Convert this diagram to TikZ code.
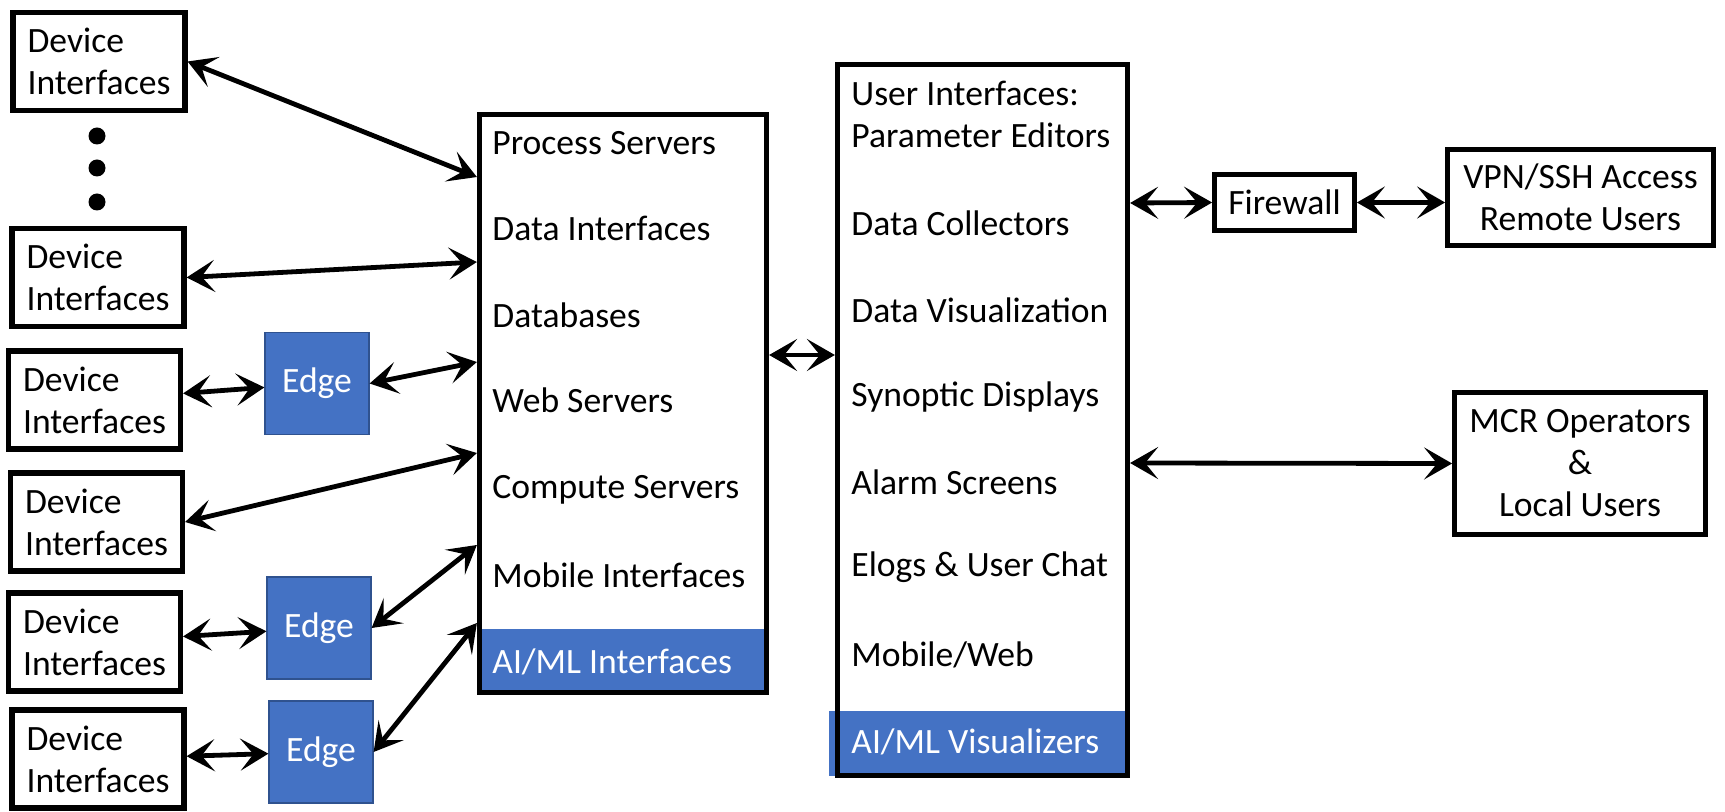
\documentclass[tikz,border=0pt]{standalone}
\usepackage{fontspec}
\setmainfont{Carlito}
\usetikzlibrary{arrows.meta}
\definecolor{ablue}{HTML}{4472C4}
\definecolor{eblue}{HTML}{2F528F}
\tikzset{
  every node/.style={font=\fontsize{17.8}{21}\selectfont},
  dev/.style={draw, line width=2.6pt, minimum width=86pt, minimum height=49pt, align=left, inner sep=0pt},
  edgebox/.style={fill=ablue, draw=eblue, line width=0.6pt, minimum width=52pt, minimum height=51pt, text=white},
  big/.style={draw, line width=2.6pt, inner sep=0pt},
  plain/.style={draw, line width=2.4pt, inner sep=0pt, align=center},
  lbl/.style={anchor=west, inner sep=0pt},
  wlbl/.style={anchor=west, inner sep=0pt, text=white},
  arr/.style={line width=2.4pt, {Stealth[length=14pt,width=16pt,inset=6.5pt]}-{Stealth[length=14pt,width=16pt,inset=6.5pt]}},
  dot/.style={circle, fill, inner sep=0pt, minimum size=8.5pt},
}
\begin{document}
\begin{tikzpicture}[x=0.5pt,y=-0.5pt]
\useasboundingbox (0,0) rectangle (1725,812);
% device boxes
\node[dev] (d1) at (99,61.5) {Device\\Interfaces};
\node[dev] (d2) at (98,277.5) {Device\\Interfaces};
\node[dev] (d3) at (94.5,400) {Device\\Interfaces};
\node[dev] (d4) at (96.5,522) {Device\\Interfaces};
\node[dev] (d5) at (94.5,642) {Device\\Interfaces};
\node[dev] (d6) at (98,759) {Device\\Interfaces};
% dots
\node[dot] (p1) at (97,136) {};
\node[dot] (p2) at (97,168) {};
\node[dot] (p3) at (97,202) {};
% edges
\node[edgebox] (e1) at (317,383.5) {Edge};
\node[edgebox] (e2) at (319,628) {Edge};
\node[edgebox] (e3) at (321,752) {Edge};
% box A
\fill[ablue] (480,629) rectangle (766,692);
\node[big, minimum width=143.5pt, minimum height=289pt] (A) at (623,403.5) {};
\node[lbl] (a1) at (492,143) {Process Servers};
\node[lbl] (a2) at (492,228) {Data Interfaces};
\node[lbl] (a3) at (492,315) {Databases};
\node[lbl] (a4) at (492,400) {Web Servers};
\node[lbl] (a5) at (492,490) {Compute Servers};
\node[lbl] (a6) at (492,575) {Mobile Interfaces};
\node[wlbl] (a7) at (492,662) {AI/ML Interfaces};
% box B
\fill[ablue] (829,711) rectangle (1127,776);
\node[big, minimum width=145pt, minimum height=355.5pt] (B) at (982.5,420) {};
\node[lbl] (b1) at (851,93) {User Interfaces:};
\node[lbl] (b2) at (851,135) {Parameter Editors};
\node[lbl] (b3) at (851,223) {Data Collectors};
\node[lbl] (b4) at (851,310) {Data Visualization};
\node[lbl] (b5) at (851,397) {Synoptic Displays};
\node[lbl] (b6) at (851,482) {Alarm Screens};
\node[lbl] (b7) at (851,567) {Elogs \& User Chat};
\node[lbl] (b8) at (851,655) {Mobile/Web};
\node[wlbl] (b9) at (851,742) {AI/ML Visualizers};
% right side
\node[plain, minimum width=70pt, minimum height=28pt] (fw) at (1284.5,202.5) {Firewall};
\node[plain, minimum width=133pt, minimum height=48pt] (vpn) at (1580.5,197.5) {VPN/SSH Access\\Remote Users};
\node[plain, minimum width=125.5pt, minimum height=71pt] (mcr) at (1580,463.5) {MCR Operators\\\&\\Local Users};
% connectors
\draw[arr] (d1.east) -- (A.west |- 0,177);
\draw[arr] (d2.east) -- (A.west |- 0,262);
\draw[arr] (d3) -- (e1);
\draw[arr] (e1.east) -- (A.west |- 0,362);
\draw[arr] (d4.east) -- (A.west |- 0,453);
\draw[arr] (d5) -- (e2);
\draw[arr] (e2.east) -- (A.west |- 0,545);
\draw[arr] (d6) -- (e3);
\draw[arr] (e3.east) -- (A.west |- 0,623);
\draw[arr] (A.east |- 0,355) -- (B.west |- 0,355);
\draw[arr] (B.east |- 0,203) -- (fw.west);
\draw[arr] (fw.east) -- (vpn.west |- fw.east);
\draw[arr] (B.east |- 0,463) -- (mcr.west);
\end{tikzpicture}
\end{document}
